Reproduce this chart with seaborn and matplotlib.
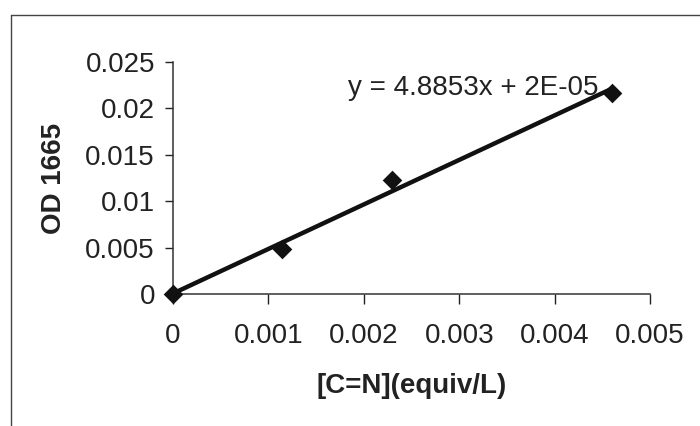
import numpy as np
import pandas as pd
import matplotlib
matplotlib.use("Agg")
import matplotlib.pyplot as plt
from matplotlib.lines import Line2D
import seaborn as sns

# values
conc = [0.0, 0.00114, 0.0023, 0.0046]     # [C=N] (equiv/L)
od = [0.0, 0.0048, 0.0123, 0.0217]        # OD 1665
x_ticks = [0, 0.001, 0.002, 0.003, 0.004, 0.005]
x_ticklabels = ["0", "0.001", "0.002", "0.003", "0.004", "0.005"]
y_ticks = [0, 0.005, 0.01, 0.015, 0.02, 0.025]
y_ticklabels = ["0", "0.005", "0.01", "0.015", "0.02", "0.025"]
equation = "y = 4.8853x + 2E-05"

df = pd.DataFrame({"conc": conc, "od": od})

sns.set_style("white")
plt.rcParams["font.family"] = ["Liberation Sans", "DejaVu Sans"]

fig = plt.figure(figsize=(7, 4.26), dpi=100)
ax = fig.add_axes([173/700, 1-294/426, 477/700, 232/426])

sns.regplot(data=df, x="conc", y="od", ax=ax, ci=None, truncate=True,
            marker="D", color="#111111",
            scatter_kws={"s": 100, "zorder": 3, "linewidths": 0, "alpha": 1,
                         "clip_on": False},
            line_kws={"lw": 3.2, "clip_on": False})

ax.set_xlim(0, 0.005)
ax.set_ylim(0, 0.025)
ax.set_xticks(x_ticks)
ax.set_xticklabels(x_ticklabels)
ax.set_yticks(y_ticks)
ax.set_yticklabels(y_ticklabels)
ax.tick_params(axis="x", direction="out", length=7, width=1, pad=14,
               labelsize=20, colors="#222222", bottom=True)
ax.tick_params(axis="y", direction="out", length=6, width=1, pad=7,
               labelsize=20, colors="#222222", left=True)

for s in ["top", "right"]:
    ax.spines[s].set_visible(False)
for s in ["left", "bottom"]:
    ax.spines[s].set_color("#333333")
    ax.spines[s].set_linewidth(1.1)

ax.set_xlabel("[C=N](equiv/L)", fontsize=20, fontweight="bold", color="#222222", va="center")
ax.xaxis.set_label_coords(0.5, -0.397)
ax.set_ylabel("OD 1665", fontsize=20, fontweight="bold", color="#222222", va="center")
ax.yaxis.set_label_coords(-0.249, 0.5)

ax.text(0.367, 0.887, equation, transform=ax.transAxes, fontsize=20,
        color="#222222", ha="left", va="center")

# outer chart frame (left and top edges visible in the scan)
fig.add_artist(Line2D([11/700, 11/700], [0, 1-15/426], transform=fig.transFigure,
                      color="#444444", lw=1))
fig.add_artist(Line2D([11/700, 1], [1-15/426, 1-15/426], transform=fig.transFigure,
                      color="#444444", lw=1))

fig.savefig("out.png", dpi=100, facecolor="white")
